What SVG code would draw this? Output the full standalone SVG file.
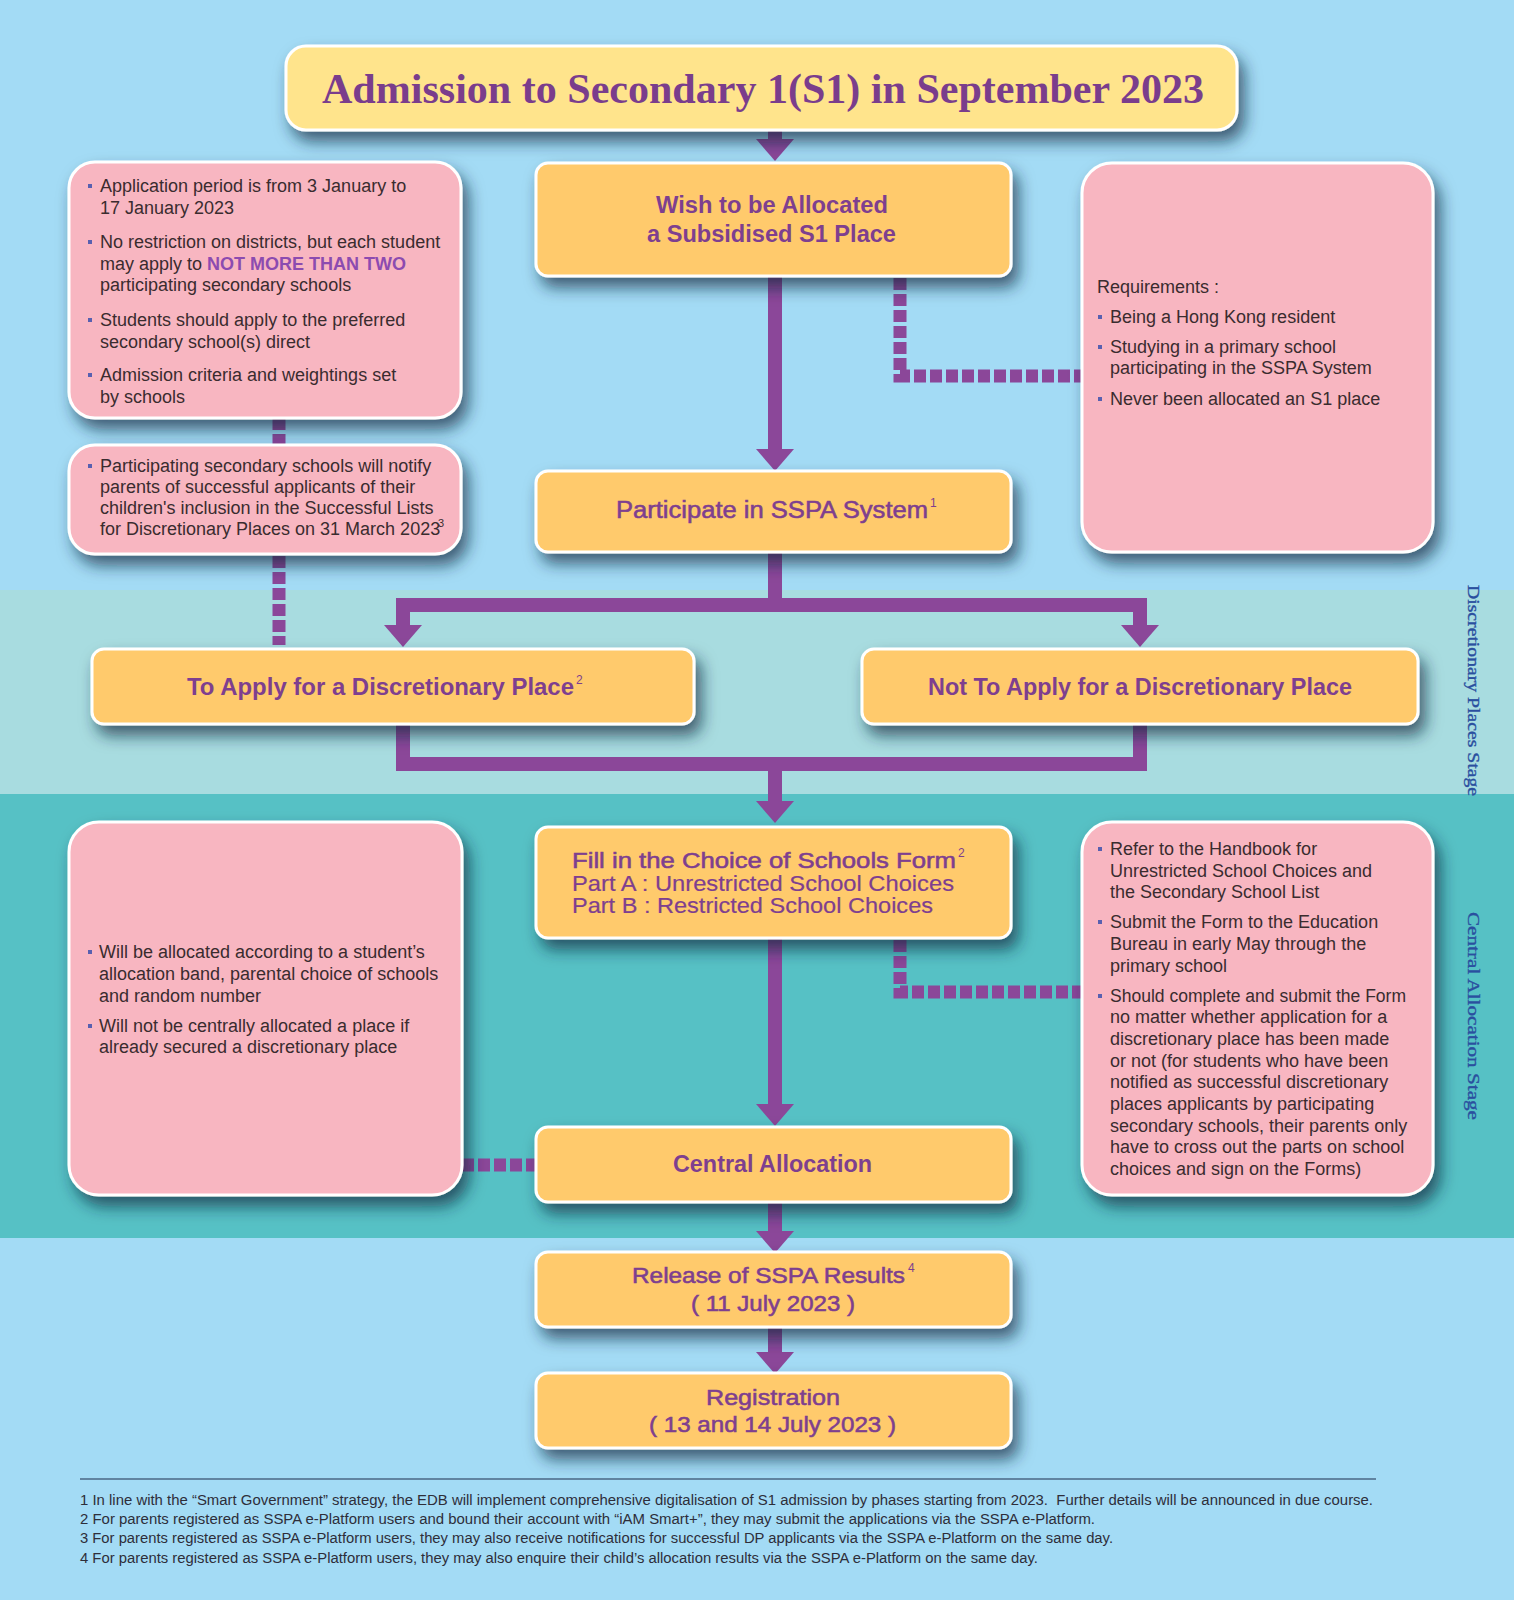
<svg xmlns="http://www.w3.org/2000/svg" width="1514" height="1600" viewBox="0 0 1514 1600">
<style>
.title{fill:#FFE48C;stroke:#fff;stroke-width:3}
.or{fill:#FFCA6C;stroke:#fff;stroke-width:3}
.pk{fill:#F8B6C1;stroke:#fff;stroke-width:3}
.tt{font-family:"Liberation Serif","Times New Roman",serif;font-weight:bold;fill:#7A3D8C}
.nb{font-family:"Liberation Sans",Arial,sans-serif;font-weight:bold;fill:#7E3F8F}
.nm{font-family:"Liberation Sans",Arial,sans-serif;font-weight:normal;fill:#7E3F8F;stroke:#7E3F8F;stroke-width:0.55}
.nr{font-family:"Liberation Sans",Arial,sans-serif;font-weight:normal;fill:#7E3F8F;stroke:#7E3F8F;stroke-width:0.2}
.sup{font-family:"Liberation Sans",Arial,sans-serif;font-size:12px;fill:#7E3F8F}
.bd{font-family:"Liberation Sans",Arial,sans-serif;font-size:18px;fill:#3A2C2F}
.bsup{font-family:"Liberation Sans",Arial,sans-serif;font-size:11px;fill:#3A2C2F}
.hl{fill:#8C4BB0;font-weight:bold}
.bl{fill:#5860B0}
.side{font-family:"Liberation Serif","Times New Roman",serif;font-size:17px;fill:#2A4F9F;stroke:#2A4F9F;stroke-width:0.35}
.fn{font-family:"Liberation Sans",Arial,sans-serif;font-size:14px;fill:#2E2E3A}
.sol{fill:none;stroke:#8B4799;stroke-width:14}
.dot{fill:none;stroke:#8B4799;stroke-width:13;stroke-dasharray:12 4}
</style>
<defs>
<filter id="sh" x="-12%" y="-15%" width="135%" height="160%">
<feDropShadow dx="6" dy="10" stdDeviation="8" flood-color="#0a2a40" flood-opacity="0.7"/>
</filter>
<marker id="ah" markerUnits="userSpaceOnUse" markerWidth="22" markerHeight="38" viewBox="0 0 22 38" refX="0" refY="19" orient="auto">
<path d="M0,0 L22,19 L0,38 Z" fill="#8B4799"/>
</marker>
</defs>

<!-- background bands -->
<rect x="0" y="0" width="1514" height="1600" fill="#A3DBF5"/>
<rect x="0" y="590" width="1514" height="204" fill="#A8DCE0"/>
<rect x="0" y="794" width="1514" height="444" fill="#56C1C5"/>

<!-- connectors -->
<g id="connectors">
<path class="sol" d="M775,128 V139" marker-end="url(#ah)"/>
<path class="sol" d="M775,276 V449" marker-end="url(#ah)"/>
<path class="sol" d="M775,552 V605"/>
<path class="sol" d="M396,605 H1147"/>
<path class="sol" d="M403,605 V625" marker-end="url(#ah)"/>
<path class="sol" d="M1140,605 V625" marker-end="url(#ah)"/>
<path class="sol" d="M403,724 V764"/>
<path class="sol" d="M1140,724 V764"/>
<path class="sol" d="M396,764 H1147"/>
<path class="sol" d="M775,764 V801" marker-end="url(#ah)"/>
<path class="sol" d="M775,938 V1104" marker-end="url(#ah)"/>
<path class="sol" d="M775,1202 V1231" marker-end="url(#ah)"/>
<path class="sol" d="M775,1327 V1352" marker-end="url(#ah)"/>
<path class="dot" d="M900,278 V376 H1082"/>
<path class="dot" d="M900,940 V992 H1082"/>
<path class="dot" d="M279,418 V445"/>
<path class="dot" d="M279,556 V645"/>
<path class="dot" d="M462,1165 H536"/>
</g>

<g id="n-title">
<rect class="title" x="286" y="46" width="951" height="84" rx="20" filter="url(#sh)"/>
<text class="tt" x="322" y="103" font-size="42" textLength="882" lengthAdjust="spacingAndGlyphs">Admission to Secondary 1(S1) in September 2023</text>
</g>

<g id="n-wish">
<rect class="or" x="536" y="163" width="475" height="113" rx="12" filter="url(#sh)"/>
<text class="nb" x="656" y="213" font-size="23" textLength="232" lengthAdjust="spacingAndGlyphs">Wish to be Allocated</text>
<text class="nb" x="647" y="242" font-size="23" textLength="249" lengthAdjust="spacingAndGlyphs">a Subsidised S1 Place</text>
</g>

<g id="n-participate">
<rect class="or" x="536" y="471" width="475" height="81" rx="12" filter="url(#sh)"/>
<text class="nm" x="616" y="518" font-size="23" textLength="312" lengthAdjust="spacingAndGlyphs">Participate in SSPA System</text>
<text class="sup" x="930" y="507">1</text>
</g>

<g id="n-apply">
<rect class="or" x="92" y="649" width="602" height="75" rx="12" filter="url(#sh)"/>
<text class="nb" x="187" y="695" font-size="23" textLength="387" lengthAdjust="spacingAndGlyphs">To Apply for a Discretionary Place</text>
<text class="sup" x="576" y="684">2</text>
</g>

<g id="n-notapply">
<rect class="or" x="862" y="649" width="556" height="75" rx="12" filter="url(#sh)"/>
<text class="nb" x="928" y="695" font-size="23" textLength="424" lengthAdjust="spacingAndGlyphs">Not To Apply for a Discretionary Place</text>
</g>

<g id="n-fill">
<rect class="or" x="536" y="827" width="475" height="111" rx="12" filter="url(#sh)"/>
<text class="nm" x="572" y="868" font-size="22" textLength="384" lengthAdjust="spacingAndGlyphs">Fill in the Choice of Schools Form</text>
<text class="sup" x="958" y="857">2</text>
<text class="nr" x="572" y="891" font-size="22" textLength="382" lengthAdjust="spacingAndGlyphs">Part A : Unrestricted School Choices</text>
<text class="nr" x="572" y="913" font-size="22" textLength="361" lengthAdjust="spacingAndGlyphs">Part B : Restricted School Choices</text>
</g>

<g id="n-central">
<rect class="or" x="536" y="1127" width="475" height="75" rx="12" filter="url(#sh)"/>
<text class="nb" x="673" y="1172" font-size="23" textLength="199" lengthAdjust="spacingAndGlyphs">Central Allocation</text>
</g>

<g id="n-release">
<rect class="or" x="536" y="1252" width="475" height="75" rx="12" filter="url(#sh)"/>
<text class="nm" x="632" y="1283" font-size="22" textLength="273" lengthAdjust="spacingAndGlyphs">Release of SSPA Results</text>
<text class="sup" x="908" y="1272">4</text>
<text class="nm" x="691" y="1311" font-size="22" textLength="164" lengthAdjust="spacingAndGlyphs">( 11 July 2023 )</text>
</g>

<g id="n-registration">
<rect class="or" x="536" y="1373" width="475" height="75" rx="12" filter="url(#sh)"/>
<text class="nm" x="706" y="1405" font-size="22" textLength="134" lengthAdjust="spacingAndGlyphs">Registration</text>
<text class="nm" x="649" y="1432" font-size="22" textLength="247" lengthAdjust="spacingAndGlyphs">( 13 and 14 July 2023 )</text>
</g>

<g id="n-dp-info">
<rect class="pk" x="69" y="162" width="392" height="256" rx="26" filter="url(#sh)"/>
<rect class="bl" x="88" y="184" width="4" height="4"/>
<rect class="bl" x="88" y="240" width="4" height="4"/>
<rect class="bl" x="88" y="318" width="4" height="4"/>
<rect class="bl" x="88" y="373" width="4" height="4"/>
<text class="bd" x="100" y="192">Application period is from 3 January to</text>
<text class="bd" x="100" y="213.5">17 January 2023</text>
<text class="bd" x="100" y="248">No restriction on districts, but each student</text>
<text class="bd" x="100" y="269.5">may apply to <tspan class="hl">NOT MORE THAN TWO</tspan></text>
<text class="bd" x="100" y="291">participating secondary schools</text>
<text class="bd" x="100" y="326">Students should apply to the preferred</text>
<text class="bd" x="100" y="347.5">secondary school(s) direct</text>
<text class="bd" x="100" y="381">Admission criteria and weightings set</text>
<text class="bd" x="100" y="402.5">by schools</text>
</g>

<g id="n-dp-notify">
<rect class="pk" x="69" y="445" width="392" height="109" rx="26" filter="url(#sh)"/>
<rect class="bl" x="88" y="464" width="4" height="4"/>
<text class="bd" x="100" y="472">Participating secondary schools will notify</text>
<text class="bd" x="100" y="493">parents of successful applicants of their</text>
<text class="bd" x="100" y="514">children's inclusion in the Successful Lists</text>
<text class="bd" x="100" y="535">for Discretionary Places on 31 March 2023</text>
<text class="bsup" x="438" y="527">3</text>
</g>

<g id="n-requirements">
<rect class="pk" x="1082" y="163" width="351" height="389" rx="30" filter="url(#sh)"/>
<text class="bd" x="1097" y="293">Requirements :</text>
<rect class="bl" x="1098" y="315" width="4" height="4"/>
<rect class="bl" x="1098" y="345" width="4" height="4"/>
<rect class="bl" x="1098" y="397" width="4" height="4"/>
<text class="bd" x="1110" y="323">Being a Hong Kong resident</text>
<text class="bd" x="1110" y="353">Studying in a primary school</text>
<text class="bd" x="1110" y="374">participating in the SSPA System</text>
<text class="bd" x="1110" y="405">Never been allocated an S1 place</text>
</g>

<g id="n-ca-info">
<rect class="pk" x="69" y="822" width="393" height="373" rx="30" filter="url(#sh)"/>
<rect class="bl" x="88" y="950" width="4" height="4"/>
<rect class="bl" x="88" y="1024" width="4" height="4"/>
<text class="bd" x="99" y="958">Will be allocated according to a student’s</text>
<text class="bd" x="99" y="980">allocation band, parental choice of schools</text>
<text class="bd" x="99" y="1002">and random number</text>
<text class="bd" x="99" y="1032">Will not be centrally allocated a place if</text>
<text class="bd" x="99" y="1053">already secured a discretionary place</text>
</g>

<g id="n-form-info">
<rect class="pk" x="1082" y="822" width="351" height="373" rx="30" filter="url(#sh)"/>
<rect class="bl" x="1098" y="847" width="4" height="4"/>
<rect class="bl" x="1098" y="920" width="4" height="4"/>
<rect class="bl" x="1098" y="994" width="4" height="4"/>
<text class="bd" x="1110" y="855">Refer to the Handbook for</text>
<text class="bd" x="1110" y="877">Unrestricted School Choices and</text>
<text class="bd" x="1110" y="898">the Secondary School List</text>
<text class="bd" x="1110" y="928">Submit the Form to the Education</text>
<text class="bd" x="1110" y="950">Bureau in early May through the</text>
<text class="bd" x="1110" y="972">primary school</text>
<text class="bd" x="1110" y="1002" textLength="296" lengthAdjust="spacingAndGlyphs">Should complete and submit the Form</text>
<text class="bd" x="1110" y="1023">no matter whether application for a</text>
<text class="bd" x="1110" y="1045">discretionary place has been made</text>
<text class="bd" x="1110" y="1067">or not (for students who have been</text>
<text class="bd" x="1110" y="1088">notified as successful discretionary</text>
<text class="bd" x="1110" y="1110">places applicants by participating</text>
<text class="bd" x="1110" y="1132">secondary schools, their parents only</text>
<text class="bd" x="1110" y="1153">have to cross out the parts on school</text>
<text class="bd" x="1110" y="1175">choices and sign on the Forms)</text>
</g>

<g id="stage-labels">
<text class="side" transform="translate(1468,585) rotate(90)" textLength="211" lengthAdjust="spacingAndGlyphs">Discretionary Places Stage</text>
<text class="side" transform="translate(1468,912) rotate(90)" textLength="208" lengthAdjust="spacingAndGlyphs">Central Allocation Stage</text>
</g>

<g id="footnotes">
<path d="M80,1479 H1376" stroke="#4A6785" stroke-width="1.5"/>
<text class="fn" x="80" y="1505" textLength="1293" lengthAdjust="spacingAndGlyphs">1 In line with the “Smart Government” strategy, the EDB will implement comprehensive digitalisation of S1 admission by phases starting from 2023. &#160;Further details will be announced in due course.</text>
<text class="fn" x="80" y="1524" textLength="1015" lengthAdjust="spacingAndGlyphs">2 For parents registered as SSPA e-Platform users and bound their account with “iAM Smart+”, they may submit the applications via the SSPA e-Platform.</text>
<text class="fn" x="80" y="1543" textLength="1033" lengthAdjust="spacingAndGlyphs">3 For parents registered as SSPA e-Platform users, they may also receive notifications for successful DP applicants via the SSPA e-Platform on the same day.</text>
<text class="fn" x="80" y="1563" textLength="958" lengthAdjust="spacingAndGlyphs">4 For parents registered as SSPA e-Platform users, they may also enquire their child’s allocation results via the SSPA e-Platform on the same day.</text>
</g>
</svg>
